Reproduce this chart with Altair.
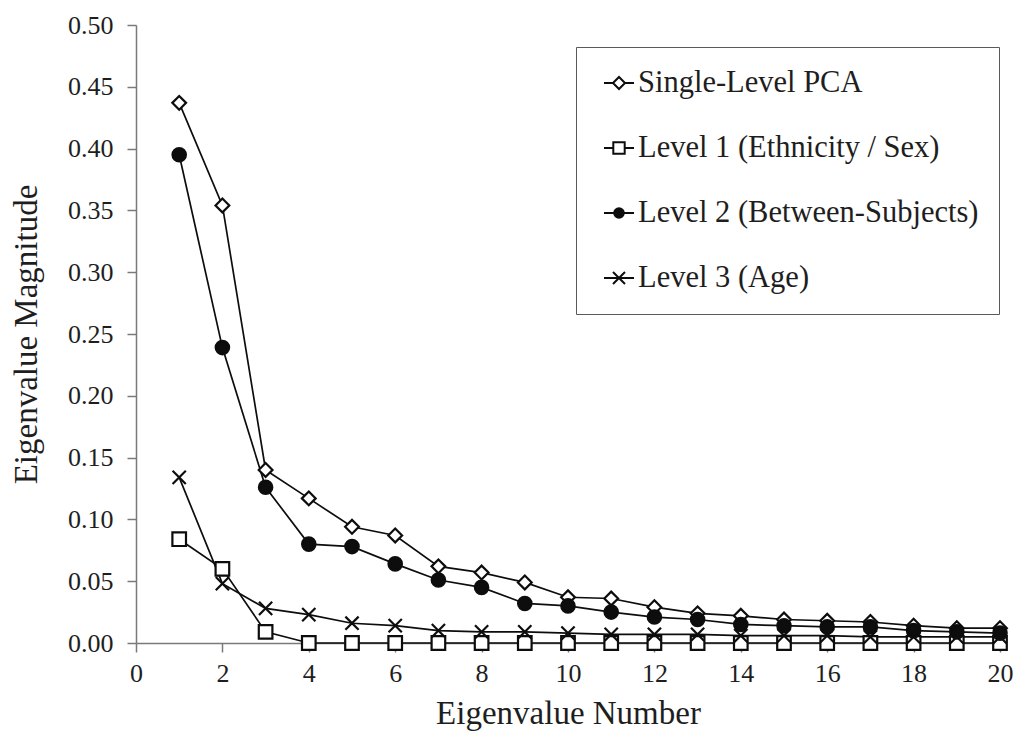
import altair as alt
import pandas as pd

eig_num = list(range(1, 21))
series_names = [
    "Single-Level PCA",
    "Level 1 (Ethnicity / Sex)",
    "Level 2 (Between-Subjects)",
    "Level 3 (Age)",
]
pca = [0.437, 0.354, 0.140, 0.117, 0.094, 0.087, 0.062, 0.057, 0.049, 0.037,
       0.036, 0.029, 0.024, 0.022, 0.019, 0.018, 0.017, 0.014, 0.012, 0.012]
lvl1 = [0.084, 0.060, 0.009, 0.0, 0.0, 0.0, 0.0, 0.0, 0.0, 0.0,
        0.0, 0.0, 0.0, 0.0, 0.0, 0.0, 0.0, 0.0, 0.0, 0.0]
lvl2 = [0.395, 0.239, 0.126, 0.080, 0.078, 0.064, 0.051, 0.045, 0.032, 0.030,
        0.025, 0.021, 0.019, 0.015, 0.014, 0.013, 0.013, 0.010, 0.009, 0.008]
lvl3 = [0.134, 0.048, 0.028, 0.023, 0.016, 0.014, 0.010, 0.009, 0.009, 0.008,
        0.007, 0.007, 0.007, 0.006, 0.006, 0.006, 0.005, 0.005, 0.005, 0.005]

x_ticks = [0, 2, 4, 6, 8, 10, 12, 14, 16, 18, 20]
y_ticks = [0.0, 0.05, 0.10, 0.15, 0.20, 0.25, 0.30, 0.35, 0.40, 0.45, 0.50]

rows = []
for name, vals in zip(series_names, [pca, lvl1, lvl2, lvl3]):
    for n, v in zip(eig_num, vals):
        rows.append({"n": n, "v": v, "s": name})
df = pd.DataFrame(rows)

FONT = "Liberation Serif, Times New Roman, serif"
TXT = "#1e1e1e"
AX = "#7a7a7a"
INK = "#0d0d0d"

X_PATH = "M-1,-1L1,1M-1,1L1,-1"
point_shapes = ["diamond", "square", "circle", X_PATH]
point_sizes = [190, 175, 85, 160]
fills = ["white", "white", INK, "white"]
strokes = [INK, INK, INK, INK]
legend_shapes = [
    "M-1,0L-0.4,0M0.4,0L1,0M-0.4,0L0,-0.4L0.4,0L0,0.4Z",
    "M-1,0L-0.38,0M0.38,0L1,0M-0.38,-0.38L0.38,-0.38L0.38,0.38L-0.38,0.38Z",
    "M-1,0L1,0M0.32,0A0.32,0.32 0 1,1 -0.32,0A0.32,0.32 0 1,1 0.32,0Z",
    "M-1,0L1,0M-0.4,-0.4L0.4,0.4M-0.4,0.4L0.4,-0.4",
]

x_enc = alt.X(
    "n:Q",
    scale=alt.Scale(domain=[0, 20], nice=False),
    axis=alt.Axis(
        values=x_ticks, title="Eigenvalue Number", grid=False,
        tickSize=9, tickWidth=1.5, tickColor=AX, domainColor=AX, domainWidth=1.5,
        labelFont=FONT, labelFontSize=26, labelColor=TXT, labelPadding=8,
        labelFlush=False, labelOverlap=False,
        titleFont=FONT, titleFontSize=33, titleFontWeight="normal",
        titleColor=TXT, titlePadding=11,
    ),
)
y_enc = alt.Y(
    "v:Q",
    scale=alt.Scale(domain=[0, 0.5], nice=False),
    axis=alt.Axis(
        values=y_ticks, format=".2f", title="Eigenvalue Magnitude", grid=False,
        tickSize=9, tickWidth=1.5, tickColor=AX, domainColor=AX, domainWidth=1.5,
        labelFont=FONT, labelFontSize=26, labelColor=TXT, labelPadding=14,
        labelOverlap=False, labelFlush=False,
        titleFont=FONT, titleFontSize=33, titleFontWeight="normal",
        titleColor=TXT, titlePadding=24,
    ),
)

lines = alt.Chart(df).mark_line(color=INK, strokeWidth=1.7).encode(
    x=x_enc, y=y_enc, detail="s:N"
)

points = alt.Chart(df).mark_point(
    filled=True, stroke=INK, strokeWidth=2.2, opacity=1
).encode(
    x=x_enc,
    y=y_enc,
    shape=alt.Shape("s:N", scale=alt.Scale(domain=series_names, range=point_shapes), legend=None),
    fill=alt.Fill("s:N", scale=alt.Scale(domain=series_names, range=fills), legend=None),
    size=alt.Size("s:N", scale=alt.Scale(domain=series_names, range=point_sizes), legend=None),
)

legend_props = dict(
    title=None, orient="none", legendX=440, legendY=22,
    direction="vertical",
    strokeColor="#5a5a5a", fillColor="white", padding=20,
    labelFont=FONT, labelFontSize=30.5, labelColor=TXT, labelLimit=600,
    labelOffset=3, rowPadding=33, symbolSize=900, symbolOffset=7,
    symbolStrokeWidth=2, symbolStrokeColor=INK,
)

legend_layer = alt.Chart(df).transform_filter("false").mark_point(
    filled=True, strokeWidth=2, opacity=1
).encode(
    x=x_enc,
    y=y_enc,
    shape=alt.Shape(
        "s:N",
        scale=alt.Scale(domain=series_names, range=legend_shapes),
        legend=alt.Legend(**legend_props),
    ),
    fill=alt.Fill("s:N", scale=alt.Scale(domain=series_names, range=fills),
                  legend=alt.Legend(**legend_props)),
    stroke=alt.Stroke("s:N", scale=alt.Scale(domain=series_names, range=strokes),
                      legend=alt.Legend(**legend_props)),
)

chart = (
    alt.layer(lines, points, legend_layer)
    .resolve_scale(shape="independent", fill="independent", stroke="independent")
    .properties(
        width=864, height=618,
        autosize=alt.AutoSizeParams(type="none"),
        padding={"left": 128, "top": 17, "right": 13, "bottom": 88},
        background="white",
    )
    .configure_view(stroke=None)
)

chart.save("out.html", embed_options={"renderer": "svg", "actions": False})
